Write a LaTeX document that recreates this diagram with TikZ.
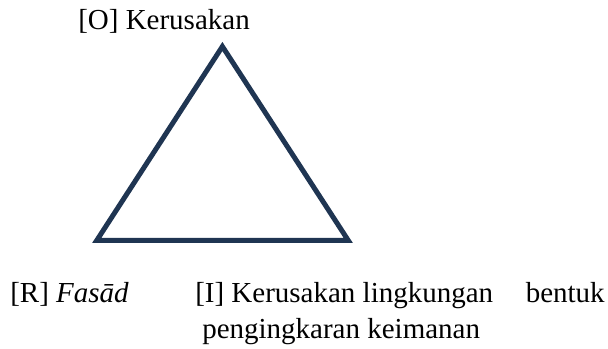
\documentclass[tikz,border=0pt]{standalone}
\usepackage{fontspec}
\setmainfont{Liberation Serif}
\definecolor{segitiga}{RGB}{31,53,82}
\tikzset{
    label/.style={anchor=base west, inner sep=0pt, font=\fontsize{21.75}{26}\selectfont},
    sisi/.style={draw=segitiga, line width=3.75pt, line join=miter}
}
\begin{document}
\begin{tikzpicture}[x=0.75pt, y=-0.75pt]
        \useasboundingbox (0, 0) rectangle (608, 349);

        \coordinate (O) at (222.4, 46.5);
        \coordinate (R) at (96.7, 240.5);
        \coordinate (I) at (348.3, 240.5);
        \draw[sisi] (O) -- (R) -- (I) -- cycle;

        \node[label] (labelO) at (78, 30) {[O] Kerusakan};
        \node[label] (labelR) at (10, 303) {[R] \textit{Fasād}};
        \node[label] (labelI) at (195, 303) {[I] Kerusakan lingkungan};
        \node[label, anchor=base east] (labelI2) at (605, 303) {bentuk};
        \node[label] (labelI3) at (202, 339) {pengingkaran keimanan};
    \end{tikzpicture}
\end{document}
